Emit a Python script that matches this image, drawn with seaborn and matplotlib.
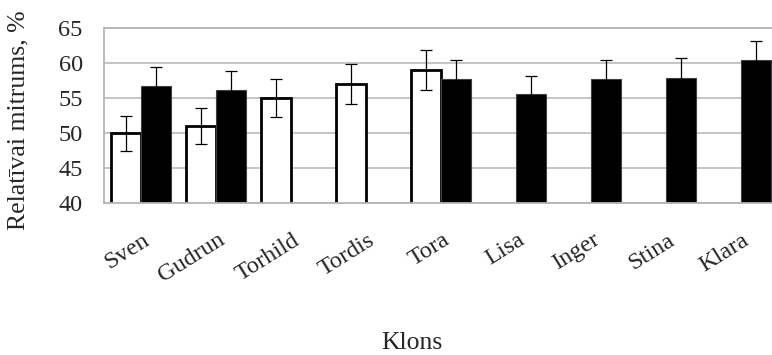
import numpy as np
import pandas as pd
import matplotlib
matplotlib.use("Agg")
import matplotlib.pyplot as plt
import matplotlib.transforms as mtransforms
import seaborn as sns

# Data
clones = ["Sven", "Gudrun", "Torhild", "Tordis", "Tora", "Lisa", "Inger", "Stina", "Klara"]
series_names = ["A", "B"]
white_values = [50.0, 51.0, 55.0, 57.0, 59.0, np.nan, np.nan, np.nan, np.nan]
white_errors = [2.5, 2.6, 2.7, 2.8, 2.9, np.nan, np.nan, np.nan, np.nan]
black_values = [56.7, 56.1, np.nan, np.nan, 57.7, 55.6, 57.7, 57.9, 60.4]
black_errors = [2.7, 2.8, np.nan, np.nan, 2.7, 2.6, 2.8, 2.8, 2.8]
y_ticks = [40, 45, 50, 55, 60, 65]


def build_frame():
    """Long-form table for seaborn, dropping missing bars."""
    rows = []
    for name, vals, errs in [(series_names[0], white_values, white_errors),
                             (series_names[1], black_values, black_errors)]:
        for clone, v, e in zip(clones, vals, errs):
            if not np.isnan(v):
                rows.append({"Klons": clone, "series": name, "value": v, "err": e})
    return pd.DataFrame(rows)


sns.set_style("white")
plt.rcParams["font.family"] = ["Liberation Serif", "DejaVu Serif"]

df = build_frame()

fig = plt.figure(figsize=(7.72, 3.55), dpi=100)
# plot area runs slightly past the right edge, like the cropped original
ax = fig.add_axes([103.5 / 772, 1 - 203 / 355, 675 / 772, 175 / 355])

sns.barplot(data=df, x="Klons", y="value", hue="series", order=clones,
            hue_order=series_names, palette=["white", "black"], saturation=1,
            errorbar=None, width=0.8, legend=False, ax=ax)

# bar edges and error bars
err_lookup = {series_names[0]: white_errors, series_names[1]: black_errors}
for cont, name, ec, lw in zip(ax.containers, series_names, ["black", "#404040"], [2.0, 0.8]):
    for bar in cont:
        bar.set_edgecolor(ec)
        bar.set_linewidth(lw)
        xc = bar.get_x() + bar.get_width() / 2
        idx = int(round(xc))
        ax.errorbar(xc, bar.get_height(), yerr=err_lookup[name][idx], fmt="none",
                    ecolor="black", elinewidth=0.9, capsize=4.3, capthick=0.9, zorder=5)

ax.set_xlim(-0.5, len(clones) - 0.5)
ax.set_ylim(40, 65)
ax.set_yticks(y_ticks)
ax.yaxis.grid(True, color="#c0c0c0", linewidth=1.3)
ax.set_axisbelow(True)
for side in ["left", "bottom", "top", "right"]:
    ax.spines[side].set_color("#b4b4b4")
    ax.spines[side].set_linewidth(1.3)

ax.tick_params(axis="y", length=0, pad=15, labelsize=17.5)
ax.tick_params(axis="x", length=0, pad=19, labelsize=17.5)
ax.set_xlabel("")
ax.set_ylabel("")
shift = mtransforms.ScaledTranslation(1 / 100, 0, fig.dpi_scale_trans)
for lab in ax.get_xticklabels():
    lab.set_rotation(32)
    lab.set_ha("right")
    lab.set_va("top")
    lab.set_rotation_mode("anchor")
    lab.set_transform(lab.get_transform() + shift)

fig.text(18 / 772, 1 - 120 / 355, "Relatīvai mitrums, %", rotation=90,
         ha="center", va="center", fontsize=18.5)
fig.text(412 / 772, 1 - 343 / 355, "Klons", ha="center", va="center", fontsize=18.5)

fig.savefig("out.png", dpi=100)
